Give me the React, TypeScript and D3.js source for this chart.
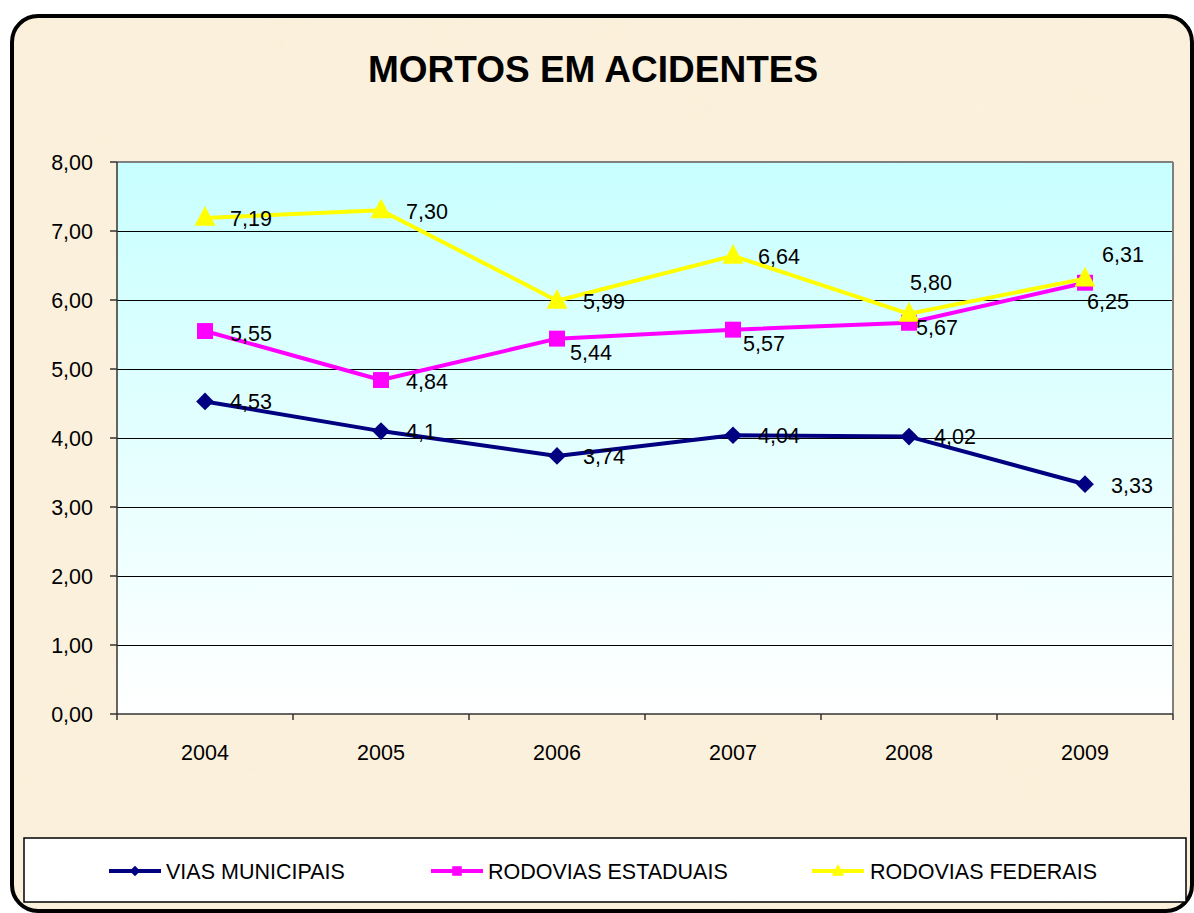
import React from "react";
import * as d3 from "d3";

const years = ["2004", "2005", "2006", "2007", "2008", "2009"];
const viasMunicipais = [4.53, 4.1, 3.74, 4.04, 4.02, 3.33];
const rodoviasEstaduais = [5.55, 4.84, 5.44, 5.57, 5.67, 6.25];
const rodoviasFederais = [7.19, 7.3, 5.99, 6.64, 5.8, 6.31];
const municipaisLabels = ["4,53", "4,1", "3,74", "4,04", "4,02", "3,33"];
const estaduaisLabels = ["5,55", "4,84", "5,44", "5,57", "5,67", "6,25"];
const federaisLabels = ["7,19", "7,30", "5,99", "6,64", "5,80", "6,31"];
const yTicks = [0, 1, 2, 3, 4, 5, 6, 7, 8];
const seriesNames = ["VIAS MUNICIPAIS", "RODOVIAS ESTADUAIS", "RODOVIAS FEDERAIS"];

// label offsets (layout only)
const offMun = [[25, 0], [25, 0], [26, 1], [25, 0], [25, 0], [26, 1]];
const offEst = [[25, 2], [25, 1], [13, 14], [10, 14], [7, 5], [2, 19]];
const offFed = [[25, 1], [25, 1], [26, 1], [25, 1], [1, -31], [17, -24]];

const FONT = "Arial, 'Liberation Sans', Helvetica, sans-serif";

export default function App() {
  const W = 1194, H = 913;
  const left = 117, right = 1173, top = 162, bottom = 714;
  const x = d3.scaleBand().domain(years).range([left, right]);
  const y = d3.scaleLinear().domain([0, 8]).range([bottom, top]);
  const cx = (i: number) => (x(years[i]) as number) + x.bandwidth() / 2;
  const line = d3.line<number>().x((_, i) => cx(i)).y((d) => y(d));
  const fs = 21.5;

  const series = [
    { name: seriesNames[0], values: viasMunicipais, labels: municipaisLabels, off: offMun, color: "#000080", marker: "diamond" },
    { name: seriesNames[1], values: rodoviasEstaduais, labels: estaduaisLabels, off: offEst, color: "#FF00FF", marker: "square" },
    { name: seriesNames[2], values: rodoviasFederais, labels: federaisLabels, off: offFed, color: "#FFFF00", marker: "triangle" },
  ];

  const markerPath = (m: string, s: number) => {
    if (m === "diamond") return d3.symbol(d3.symbolDiamond2, s * s * 0.5)();
    if (m === "square") return d3.symbol(d3.symbolSquare2, s * s)();
    return `M0,${-s * 0.62}L${s * 0.55},${s * 0.42}L${-s * 0.55},${s * 0.42}Z`;
  };
  const markerSize = (m: string) => (m === "diamond" ? 20 : m === "square" ? 18 : 19);

  const legendItems = [
    { lx: 109, tx: 166 },
    { lx: 431, tx: 488 },
    { lx: 812, tx: 870 },
  ];

  return (
    <svg width={W} height={H} style={{ position: "absolute", left: 0, top: 0 }} fontFamily={FONT}>
      <defs>
        <linearGradient id="plotGrad" x1="0" y1="0" x2="0" y2="1">
          <stop offset="0" stopColor="#C8FFFF" />
          <stop offset="1" stopColor="#FFFFFF" />
        </linearGradient>
        <filter id="paper" x="0" y="0" width="100%" height="100%">
          <feTurbulence type="fractalNoise" baseFrequency="0.015" numOctaves="3" seed="4" result="noise" />
          <feColorMatrix in="noise" type="matrix"
            values="0 0 0 0 0.97  0 0 0 0 0.90  0 0 0 0 0.76  0 0 0 0.25 0" result="tint" />
          <feComposite in="tint" in2="SourceGraphic" operator="in" result="t2" />
          <feMerge>
            <feMergeNode in="SourceGraphic" />
            <feMergeNode in="t2" />
          </feMerge>
        </filter>
      </defs>
      <rect x={0} y={0} width={W} height={H} fill="#FFFFFF" />
      <rect x={12} y={16} width={1180} height={895} rx={26} ry={26} fill="#FBF0DA" filter="url(#paper)" />
      <rect x={12} y={16} width={1180} height={895} rx={26} ry={26} fill="none" stroke="#000" strokeWidth={4} />

      <text x={593} y={82} textAnchor="middle" fontSize={37} fontWeight="bold" fill="#000">
        MORTOS EM ACIDENTES
      </text>

      {/* plot area */}
      <rect x={left} y={top} width={right - left} height={bottom - top} fill="url(#plotGrad)" />
      {yTicks.slice(1).map((t) => (
        <line key={t} x1={left} x2={right} y1={y(t) + 0.5} y2={y(t) + 0.5} stroke="#000" strokeWidth={1} />
      ))}
      <line x1={left} x2={right} y1={top} y2={top} stroke="#808080" strokeWidth={2} />
      <line x1={right} x2={right} y1={top} y2={bottom} stroke="#808080" strokeWidth={2} />
      <line x1={left} x2={left} y1={top} y2={bottom} stroke="#333" strokeWidth={1.5} />
      <line x1={left} x2={right} y1={bottom} y2={bottom} stroke="#333" strokeWidth={1.5} />

      {/* y axis */}
      {yTicks.map((t) => (
        <g key={t}>
          <line x1={left - 7} x2={left} y1={y(t)} y2={y(t)} stroke="#333" strokeWidth={1.5} />
          <text x={93} y={y(t)} dy="0.35em" textAnchor="end" fontSize={fs} fill="#000">
            {d3.format(".2f")(t).replace(".", ",")}
          </text>
        </g>
      ))}
      {/* x axis */}
      {years.map((yr) => (
        <line key={"t" + yr} x1={x(yr) as number} x2={x(yr) as number} y1={bottom} y2={bottom + 6} stroke="#333" strokeWidth={1.5} />
      ))}
      <line x1={right} x2={right} y1={bottom} y2={bottom + 6} stroke="#333" strokeWidth={1.5} />
      {years.map((yr, i) => (
        <text key={yr} x={cx(i)} y={752} dy="0.35em" textAnchor="middle" fontSize={fs} fill="#000">
          {yr}
        </text>
      ))}

      {/* series */}
      {series.map((s) => (
        <g key={s.name}>
          <path d={line(s.values) as string} fill="none" stroke={s.color} strokeWidth={4} strokeLinejoin="round" />
          {s.values.map((v, i) => (
            <path key={i} d={markerPath(s.marker, markerSize(s.marker)) as string}
              transform={`translate(${cx(i)},${y(v)})`} fill={s.color} />
          ))}
        </g>
      ))}
      {series.map((s) => (
        <g key={s.name + "lbl"}>
          {s.values.map((v, i) => (
            <text key={i} x={cx(i) + s.off[i][0]} y={y(v) + s.off[i][1]} dy="0.35em" fontSize={fs} fill="#000">
              {s.labels[i]}
            </text>
          ))}
        </g>
      ))}

      {/* legend */}
      <rect x={24} y={838} width={1162} height={64} fill="#FFFFFF" stroke="#000" strokeWidth={1.5} />
      {series.map((s, k) => (
        <g key={s.name + "lg"}>
          <line x1={legendItems[k].lx} x2={legendItems[k].lx + 52} y1={871} y2={871} stroke={s.color} strokeWidth={4} />
          <path d={markerPath(s.marker, markerSize(s.marker) * 0.6) as string}
            transform={`translate(${legendItems[k].lx + 26},871)`} fill={s.color} />
          <text x={legendItems[k].tx} y={871} dy="0.35em" fontSize={fs} fill="#000">
            {s.name}
          </text>
        </g>
      ))}
    </svg>
  );
}
